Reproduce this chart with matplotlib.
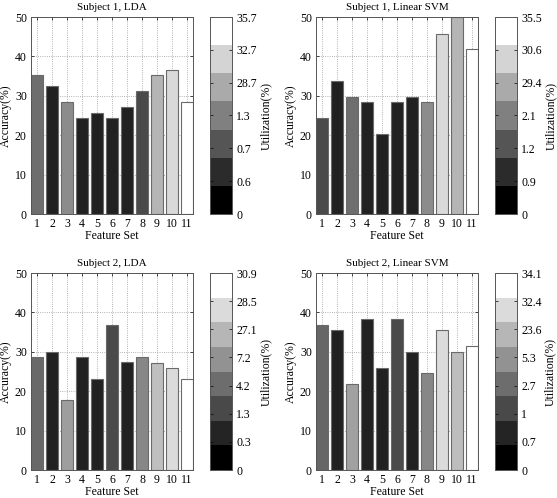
import matplotlib
matplotlib.use("Agg")
import matplotlib.pyplot as plt
from matplotlib.colors import ListedColormap, Normalize
from matplotlib.cm import ScalarMappable
import numpy as np

plt.rcParams['font.family'] = ['Liberation Serif', 'DejaVu Serif']
plt.rcParams['font.size'] = 8

feature_sets = list(range(1, 12))

# accuracy (%) per feature set
acc_s1_lda = [35.2, 32.4, 28.4, 24.3, 25.7, 24.3, 27.1, 31.1, 35.2, 36.5, 28.4]
acc_s1_svm = [24.3, 33.8, 29.7, 28.4, 20.3, 28.4, 29.7, 28.4, 45.8, 50.0, 41.8]
acc_s2_lda = [28.6, 30.0, 17.7, 28.6, 23.2, 36.8, 27.3, 28.6, 27.2, 25.9, 23.1]
acc_s2_svm = [36.8, 35.5, 21.9, 38.2, 25.9, 38.2, 30.0, 24.6, 35.5, 29.9, 31.4]

# bar shading (gray level, 0 = black, 1 = white)
gray_s1_lda = [0.43, 0.13, 0.55, 0.13, 0.13, 0.13, 0.13, 0.29, 0.71, 0.85, 1.0]
gray_s1_svm = [0.29, 0.13, 0.43, 0.13, 0.13, 0.13, 0.13, 0.55, 0.85, 0.71, 1.0]
gray_s2_lda = [0.41, 0.13, 0.62, 0.13, 0.13, 0.29, 0.13, 0.53, 0.75, 0.86, 1.0]
gray_s2_svm = [0.40, 0.13, 0.63, 0.13, 0.13, 0.29, 0.13, 0.53, 0.86, 0.74, 1.0]

# colorbar tick labels (utilization %)
util_s1_lda = ['0', '0.6', '0.7', '1.3', '28.7', '32.7', '35.7']
util_s1_svm = ['0', '0.9', '1.2', '2.1', '29.4', '30.6', '35.5']
util_s2_lda = ['0', '0.3', '1.3', '4.2', '7.2', '27.1', '28.5', '30.9']
util_s2_svm = ['0', '0.7', '1', '2.7', '5.3', '23.6', '32.4', '34.1']

titles = ['Subject 1, LDA', 'Subject 1, Linear SVM',
          'Subject 2, LDA', 'Subject 2, Linear SVM']

W, H = 557, 498
fig = plt.figure(figsize=(W / 100, H / 100), dpi=100)


def px_rect(x0, x1, y0, y1):
    return [x0 / W, 1 - y1 / H, (x1 - x0) / W, (y1 - y0) / H]


panels = [
    (acc_s1_lda, gray_s1_lda, util_s1_lda, (31, 193, 17, 214), (210, 232)),
    (acc_s1_svm, gray_s1_svm, util_s1_svm, (316, 478, 17, 214), (495, 517)),
    (acc_s2_lda, gray_s2_lda, util_s2_lda, (31, 193, 273, 470), (210, 232)),
    (acc_s2_svm, gray_s2_svm, util_s2_svm, (316, 478, 273, 470), (495, 517)),
]

for (acc, gray, util, box, cbx), title in zip(panels, titles):
    x0, x1, y0, y1 = box
    ax = fig.add_axes(px_rect(x0, x1, y0, y1))
    colors = [(g, g, g) for g in gray]
    ax.bar(feature_sets, acc, width=0.8, color=colors,
           edgecolor='#6a6a6a', linewidth=0.8, zorder=3)
    ax.set_xlim(0.6, 11.4)
    ax.set_ylim(0, 50)
    ax.set_xticks(feature_sets)
    ax.set_yticks(range(0, 51, 10))
    ax.grid(True, linestyle=':', color='#9a9a9a', linewidth=0.6, zorder=0)
    ax.tick_params(direction='in', length=2, width=0.5, top=True,
                   right=True, pad=3, labelsize=8.5)
    for s in ax.spines.values():
        s.set_color('#555555')
        s.set_linewidth(0.7)
        s.set_zorder(4)
    ax.set_title(title, fontsize=8, pad=5)
    ax.set_xlabel('Feature Set', fontsize=8.5, labelpad=0)
    ax.set_ylabel('Accuracy(%)', fontsize=8.5, labelpad=2)

    # discrete grayscale colorbar
    n = len(util)
    cax = fig.add_axes(px_rect(cbx[0], cbx[1], y0, y1))
    cmap = ListedColormap([(v, v, v) for v in np.linspace(0, 1, n)])
    sm = ScalarMappable(norm=Normalize(0, 1), cmap=cmap)
    cb = fig.colorbar(sm, cax=cax)
    cb.set_ticks(np.linspace(0, 1, n))
    cb.set_ticklabels(util)
    cb.outline.set_edgecolor('#555555')
    cb.outline.set_linewidth(0.7)
    cax.tick_params(direction='in', length=2, width=0.5, left=True,
                    right=True, labelsize=8.5, pad=3)
    cb.set_label('Utilization(%)', fontsize=8.5, labelpad=2)

fig.savefig('out.png', dpi=100)
